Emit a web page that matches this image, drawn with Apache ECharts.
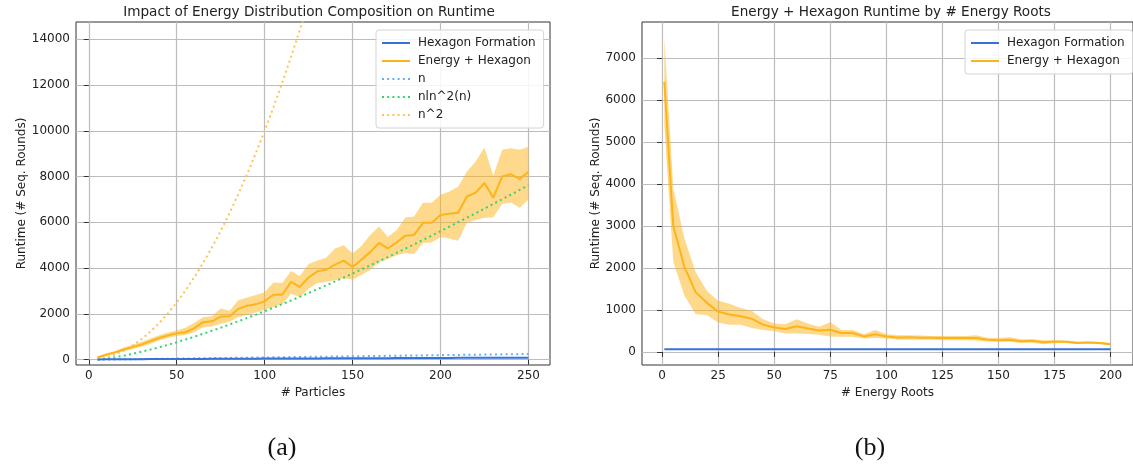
<!DOCTYPE html>
<html>
<head>
<meta charset="utf-8">
<script src="https://cdn.jsdelivr.net/npm/echarts@6/dist/echarts.min.js"></script>
<style>
  html, body { margin: 0; padding: 0; background: #fff; }
  #main { width: 1133px; height: 465px; }
</style>
</head>
<body>
<div id="main"></div>
<script>
// (a) runtime vs number of particles
var particles = [5,10,15,20,25,30,35,40,45,50,55,60,65,70,75,80,85,90,95,100,105,110,115,120,125,130,135,140,145,150,155,160,165,170,175,180,185,190,195,200,205,210,215,220,225,230,235,240,245,250];
var hexA = [15,17,19,21,23,25,27,28,30,32,34,36,37,39,41,42,44,46,47,49,50,52,54,55,57,58,60,61,63,64,66,67,69,70,72,73,75,76,78,79,80,82,83,85,86,87,89,90,91,92];
var energyA = [100,220,320,450,550,670,810,950,1060,1160,1200,1380,1640,1680,1880,1900,2220,2360,2420,2560,2840,2840,3400,3180,3590,3860,3930,4150,4330,4050,4370,4700,5100,4860,5120,5420,5450,5980,5980,6320,6380,6420,7130,7300,7720,7080,8000,8100,7900,8200];
var energyAHigh = [140,280,380,530,650,770,930,1070,1190,1280,1400,1620,1860,1900,2240,2140,2600,2720,2830,2950,3370,3350,3880,3660,4180,4330,4450,4860,5000,4640,4970,5450,5820,5360,5650,6210,6260,6860,6860,7200,7350,7560,8220,8660,9270,8040,9170,9240,9170,9300];
var energyALow = [60,170,270,380,470,570,700,840,950,1040,1080,1200,1420,1450,1560,1660,1850,1960,2060,2180,2300,2420,2880,2730,3100,3350,3400,3470,3560,3500,3700,3920,4250,4400,4560,4660,4620,5100,5120,5360,5300,5200,5980,6100,6200,6220,6800,6870,6640,7000];
var refN = [5,10,15,20,25,30,35,40,45,50,55,60,65,70,75,80,85,90,95,100,105,110,115,120,125,130,135,140,145,150,155,160,165,170,175,180,185,190,195,200,205,210,215,220,225,230,235,240,245,250];
var refNLn2 = [13,53,110,180,259,347,442,544,652,765,883,1006,1133,1264,1398,1536,1678,1822,1970,2121,2274,2430,2589,2750,2914,3080,3248,3419,3591,3766,3943,4121,4302,4484,4668,4854,5042,5231,5422,5614,5809,6004,6201,6400,6600,6802,7005,7209,7415,7622];
var refN2 = [25,100,225,400,625,900,1225,1600,2025,2500,3025,3600,4225,4900,5625,6400,7225,8100,9025,10000,11025,12100,13225,14400,15625,16900];

// (b) runtime vs number of energy roots
var roots = [1,5,10,15,20,25,30,35,40,45,50,55,60,65,70,75,80,85,90,95,100,105,110,115,120,125,130,135,140,145,150,155,160,165,170,175,180,185,190,195,200];
var hexB = [64,64,64,64,64,64,64,64,64,64,64,64,64,64,64,64,64,64,64,64,64,64,64,64,64,64,64,64,64,64,64,64,64,64,64,64,64,64,64,64,64];
var energyB = [6440,3000,2020,1420,1170,960,890,850,790,650,580,545,610,560,510,530,450,450,370,420,370,345,350,335,335,330,330,330,330,290,280,290,255,265,230,250,240,215,225,210,185];
var energyBHigh = [7500,3900,2700,1900,1450,1220,1150,1050,980,780,680,660,780,680,600,710,520,520,420,520,420,400,400,390,380,380,380,380,400,340,330,350,300,300,280,270,270,250,250,240,210];
var energyBLow = [5400,2150,1340,900,880,700,650,650,570,520,500,440,440,430,410,370,360,360,320,330,320,290,290,290,290,280,280,280,270,250,240,240,210,220,180,210,210,190,200,180,160];

var ticksA = [0,50,100,150,200,250];
var ticksAY = [0,2000,4000,6000,8000,10000,12000,14000];
var ticksB = [0,25,50,75,100,125,150,175,200];
var ticksBY = [0,1000,2000,3000,4000,5000,6000,7000];

var BLUE = '#3872d6', ORANGE = '#fdb41a', BAND = 'rgba(253,180,26,0.5)';
var FONT = 'DejaVu Sans';
var DOTS = 'path://M0,0h2v2h-2zM5.2,0h2v2h-2zM10.4,0h2v2h-2zM15.6,0h2v2h-2zM20.8,0h2v2h-2zM26,0h2v2h-2z';

function pairs(xs, ys) {
    var out = [];
    for (var i = 0; i < ys.length; i++) out.push([xs[i], ys[i]]);
    return out;
}
function plain(v) { return String(v); }

function xAxis(idx, min, max, ticks, name) {
    return {
        type: 'value', gridIndex: idx, min: min, max: max,
        name: name, nameLocation: 'middle', nameGap: 22,
        nameTextStyle: { fontFamily: FONT, fontSize: 12, color: '#222' },
        axisLine: { show: false },
        axisTick: { show: true, length: 5, customValues: ticks, lineStyle: { color: '#333' } },
        axisLabel: { customValues: ticks, margin: 5, formatter: plain, fontFamily: FONT, fontSize: 12, color: '#222' },
        splitLine: { show: true, lineStyle: { color: '#bcbcbc', width: 1.2 } }
    };
}
function yAxis(idx, min, max, ticks, gap) {
    return {
        type: 'value', gridIndex: idx, min: min, max: max,
        name: 'Runtime (# Seq. Rounds)', nameLocation: 'middle', nameGap: gap,
        nameTextStyle: { fontFamily: FONT, fontSize: 12, color: '#222' },
        axisLine: { show: false },
        axisTick: { show: true, length: 5, customValues: ticks, lineStyle: { color: '#333' } },
        axisLabel: { customValues: ticks, margin: 6, formatter: plain, fontFamily: FONT, fontSize: 12, color: '#222' },
        splitLine: { show: true, lineStyle: { color: '#bcbcbc', width: 1.2 } }
    };
}
// shaded spread drawn as one polygon: lower edge forward, upper edge back
function band(idx, xs, lo, hi) {
    return {
        type: 'custom', xAxisIndex: idx, yAxisIndex: idx, silent: true, z: 1, clip: true,
        data: pairs(xs, lo),
        renderItem: function (params, api) {
            if (params.dataIndex !== 0) return null;
            var pts = [], i;
            for (i = 0; i < xs.length; i++) pts.push(api.coord([xs[i], lo[i]]));
            for (i = xs.length - 1; i >= 0; i--) pts.push(api.coord([xs[i], hi[i]]));
            return { type: 'polygon', shape: { points: pts }, style: { fill: BAND } };
        }
    };
}
function line(idx, name, xs, ys, color, dotted, width) {
    return {
        type: 'line', name: name, xAxisIndex: idx, yAxisIndex: idx,
        data: pairs(xs, ys), symbol: 'none', z: 3, clip: true,
        lineStyle: { color: color, width: width, type: dotted ? [2, 3.3] : 'solid' },
        itemStyle: { color: color }
    };
}
function legend(left, top, items) {
    return {
        data: items, orient: 'vertical', left: left, top: top,
        itemWidth: 28, itemHeight: 2, itemGap: 4,
        padding: [6, 8, 6, 6],
        backgroundColor: 'rgba(255,255,255,0.85)', borderColor: '#d4d4d4', borderWidth: 1, borderRadius: 3,
        textStyle: { fontFamily: FONT, fontSize: 12, color: '#222', padding: [0, 0, 0, 3], lineHeight: 14 }
    };
}

var chart = echarts.init(document.getElementById('main'), null, { renderer: 'canvas' });
var series = [];
series.push(band(0, particles, energyALow, energyAHigh));
series.push(line(0, 'n', particles, refN, '#6aaaff', true, 2));
series.push(line(0, 'nln^2(n)', particles, refNLn2, '#35d46a', true, 2));
series.push(line(0, 'n^2', particles, refN2, '#ffc24f', true, 2));
series.push(line(0, 'Hexagon Formation', particles, hexA, BLUE, false, 2));
series.push(line(0, 'Energy + Hexagon', particles, energyA, ORANGE, false, 2));
series.push(band(1, roots, energyBLow, energyBHigh));
series.push(line(1, 'Hexagon Formation', roots, hexB, BLUE, false, 2));
series.push(line(1, 'Energy + Hexagon', roots, energyB, ORANGE, false, 2));

var solidItems = [
    { name: 'Hexagon Formation', icon: 'rect' },
    { name: 'Energy + Hexagon', icon: 'rect' }
];

chart.setOption({
    animation: false,
    backgroundColor: '#fff',
    title: [
        { text: 'Impact of Energy Distribution Composition on Runtime', left: 304, top: 0, textAlign: 'center',
          textStyle: { fontFamily: FONT, fontSize: 13.6, fontWeight: 'normal', color: '#222' } },
        { text: 'Energy + Hexagon Runtime by # Energy Roots', left: 886, top: 0, textAlign: 'center',
          textStyle: { fontFamily: FONT, fontSize: 13.6, fontWeight: 'normal', color: '#222' } },
        { text: '(a)', left: 277, top: 430, textAlign: 'center',
          textStyle: { fontFamily: 'Liberation Serif', fontSize: 26, fontWeight: 'normal', color: '#111' } },
        { text: '(b)', left: 865, top: 430, textAlign: 'center',
          textStyle: { fontFamily: 'Liberation Serif', fontSize: 26, fontWeight: 'normal', color: '#111' } }
    ],
    legend: [
        legend(376, 30, solidItems.concat([
            { name: 'n', icon: DOTS },
            { name: 'nln^2(n)', icon: DOTS },
            { name: 'n^2', icon: DOTS }
        ])),
        legend(965, 30, solidItems)
    ],
    grid: [
        { left: 76, top: 22, width: 474, height: 343, show: true, borderColor: '#333', borderWidth: 1, backgroundColor: 'transparent' },
        { left: 642, top: 22, width: 497, height: 343, show: true, borderColor: '#333', borderWidth: 1, backgroundColor: 'transparent' }
    ],
    xAxis: [
        xAxis(0, -7.25, 262.25, ticksA, '# Particles'),
        xAxis(1, -8.95, 209.95, ticksB, '# Energy Roots')
    ],
    yAxis: [
        yAxis(0, -230, 14750, ticksAY, 46),
        yAxis(1, -312, 7866, ticksBY, 38)
    ],
    series: series
});
</script>
</body>
</html>
